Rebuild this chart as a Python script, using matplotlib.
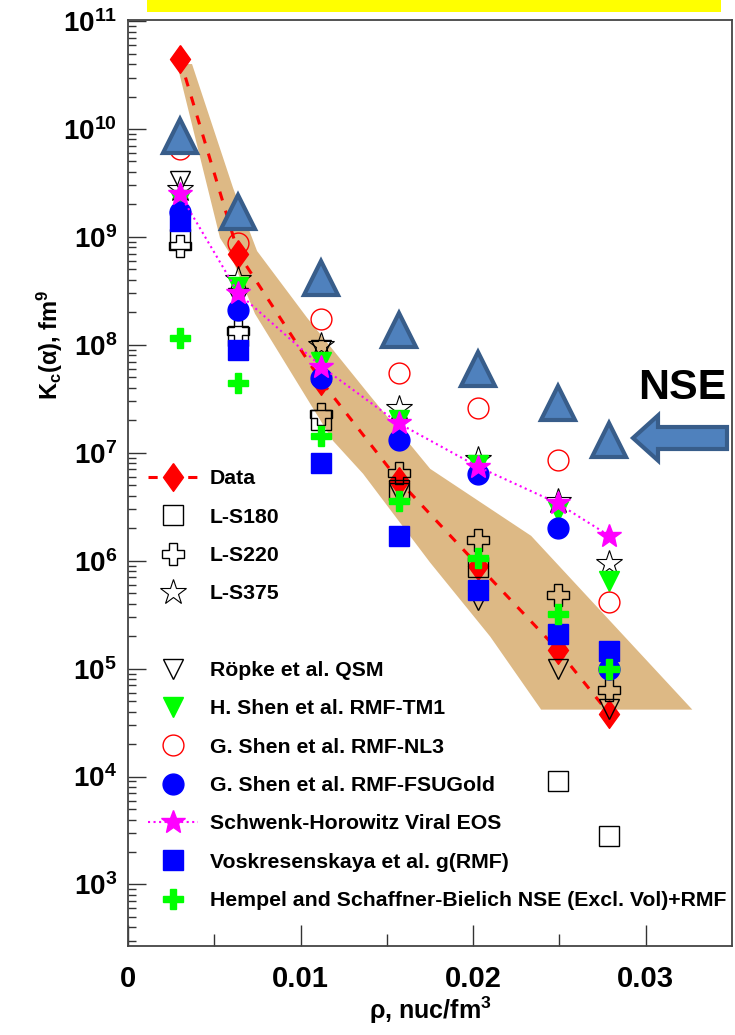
import math
import matplotlib
matplotlib.use("Agg")
import matplotlib.pyplot as plt
from matplotlib.lines import Line2D
from matplotlib.patches import Rectangle, Polygon, FancyArrow
from matplotlib.ticker import FixedLocator, MultipleLocator, NullFormatter, FuncFormatter

plt.rcParams['font.family'] = ['Liberation Sans', 'DejaVu Sans']
plt.rcParams['font.weight'] = 'bold'
plt.rcParams['mathtext.fontset'] = 'custom'
plt.rcParams['mathtext.rm'] = 'Liberation Sans:bold'
plt.rcParams['mathtext.it'] = 'Liberation Sans:bold'
plt.rcParams['mathtext.bf'] = 'Liberation Sans:bold'

# density points (nuc/fm^3)
rho = [0.0030, 0.0064, 0.0112, 0.0157, 0.0203, 0.0249, 0.0279]

# K_c(alpha) values, fm^9
k_data = [4.5e10, 7.0e8, 4.6e7, 5.5e6, 9.0e5, 1.5e5, 3.8e4]
k_ls180 = [9.5e8, 1.2e8, 2.0e7, 4.5e6, 8.7e5, 9.1e3, 2.8e3]
k_ls220 = [8.3e8, 1.35e8, 2.3e7, 6.5e6, 1.56e6, 4.8e5, 6.4e4]
k_ls375 = [2.8e9, 4.1e8, 1.0e8, 2.6e7, 8.8e6, 3.6e6, 9.6e5]
k_ropke = [3.3e9, 2.7e8, 9.0e7, 4.2e6, 4.3e5, 1.0e5, 4.2e4]
k_hshen = [2.2e9, 3.4e8, 7.0e7, 2.0e7, 7.7e6, 2.9e6, 6.5e5]
k_nl3 = [6.5e9, 8.8e8, 1.74e8, 5.5e7, 2.6e7, 8.5e6, 4.1e5]
k_fsu = [1.7e9, 2.1e8, 4.9e7, 1.3e7, 6.3e6, 2.0e6, 1.0e5]
k_viral = [2.5e9, 3.0e8, 6.3e7, 1.87e7, 7.4e6, 3.4e6, 1.7e6]
k_vosk = [1.4e9, 9.0e7, 8.1e6, 1.7e6, 5.3e5, 2.1e5, 1.45e5]
k_hempel = [1.15e8, 4.4e7, 1.44e7, 3.6e6, 1.07e6, 3.2e5, 1.0e5]
k_nse = [8.6e9, 1.7e9, 4.2e8, 1.38e8, 6.0e7, 2.9e7, 1.3e7]

# uncertainty band outline (upper edge then lower edge)
band_rho = [0.00371, 0.00609, 0.00748, 0.01038, 0.01403, 0.01751, 0.02336, 0.03270,
            0.02394, 0.02099, 0.01751, 0.01362, 0.01188, 0.00736, 0.00591, 0.00533, 0.00284]
band_k = [4.0e10, 2.84e9, 7.4e8, 1.78e8, 3.37e7, 7.1e6, 1.70e6, 4.17e4,
          4.17e4, 1.98e5, 9.6e5, 6.4e6, 1.29e7, 1.94e8, 7.0e8, 9.8e8, 4.0e10]

y_major = [10.0**e for e in range(3, 12)]
y_minor = [m * 10.0**e for e in range(2, 11) for m in range(2, 10)]

fig = plt.figure(figsize=(7.35, 10.35), dpi=100)
ax = fig.add_axes([128/735, 1-946/1035, 604/735, 926/1035])
ax.set_yscale('log')
ax.set_xlim(0, 0.035)
ax.set_ylim(10**2.43, 10**11.01)

ax.add_patch(Polygon(list(zip(band_rho, band_k)), closed=True, facecolor='#DDB985',
                     edgecolor='none', zorder=1))

diamond = [(0, 1), (0.72, 0), (0, -1), (-0.72, 0), (0, 1)]
red, blue, green, mag = '#FF0000', '#0000FF', '#00FF00', '#FF00FF'

h_data, = ax.plot(rho, k_data, color=red, ls=(0, (3, 3.5)), lw=2.2, marker=diamond,
                  ms=20, mec=red, mfc=red, zorder=3)
h_ls180, = ax.plot(rho, k_ls180, ls='none', marker='s', ms=14, mfc='none', mec='black', mew=1, zorder=4)
h_ls220, = ax.plot(rho, k_ls220, ls='none', marker='P', ms=16, mfc='none', mec='black', mew=1, zorder=4)
h_ls375, = ax.plot(rho, k_ls375, ls='none', marker='*', ms=19, mfc='none', mec='black', mew=0.8, zorder=4)
h_ropke, = ax.plot(rho, k_ropke, ls='none', marker='v', ms=15, mfc='none', mec='black', mew=1, zorder=4)
h_hshen, = ax.plot(rho, k_hshen, ls='none', marker='v', ms=15, mfc=green, mec=green, zorder=4)
h_nl3, = ax.plot(rho, k_nl3, ls='none', marker='o', ms=15, mfc='none', mec=red, mew=1, zorder=4)
h_fsu, = ax.plot(rho, k_fsu, ls='none', marker='o', ms=15, mfc=blue, mec=blue, zorder=4)
h_viral, = ax.plot(rho, k_viral, color=mag, ls=':', lw=1.5, marker='*', ms=18, mfc=mag, mec=mag, zorder=4)
h_vosk, = ax.plot(rho, k_vosk, ls='none', marker='s', ms=14, mfc=blue, mec=blue, zorder=4)
h_hempel, = ax.plot(rho, k_hempel, ls='none', marker='P', ms=15, mfc=green, mec=green, zorder=5)
ax.plot(rho, k_nse, ls='none', marker='^', ms=24, mfc='#4F81BD', mec='#385D8A', mew=3, zorder=6)

blank = Line2D([], [], ls='none', marker='none')
handles = [h_data, h_ls180, h_ls220, h_ls375, blank, h_ropke, h_hshen, h_nl3, h_fsu,
           h_viral, h_vosk, h_hempel]
labels = ['Data', 'L-S180', 'L-S220', 'L-S375', ' ', 'Röpke et al. QSM',
          'H. Shen et al. RMF-TM1', 'G. Shen et al. RMF-NL3', 'G. Shen et al. RMF-FSUGold',
          'Schwenk-Horowitz Viral EOS', 'Voskresenskaya et al. g(RMF)',
          'Hempel and Schaffner-Bielich NSE (Excl. Vol)+RMF']
ax.legend(handles, labels, loc='upper left', bbox_to_anchor=(0.033, 0.5148), frameon=False,
          fontsize=15.3, handlelength=2.35, handletextpad=0.56, labelspacing=0.91,
          borderpad=0, borderaxespad=0)

ax.xaxis.set_major_locator(FixedLocator([0, 0.01, 0.02, 0.03]))
ax.xaxis.set_minor_locator(FixedLocator([0.005, 0.015, 0.025]))
ax.xaxis.set_major_formatter(FuncFormatter(lambda v, p: '0' if abs(v) < 1e-9 else '%g' % v))
ax.yaxis.set_major_locator(FixedLocator(y_major))
ax.yaxis.set_minor_locator(FixedLocator(y_minor))
ax.yaxis.set_minor_formatter(NullFormatter())
ax.yaxis.set_major_formatter(FuncFormatter(lambda v, p: r'$\mathbf{10^{%d}}$' % round(math.log10(v))))
ax.tick_params(axis='both', which='both', direction='in', top=False, right=False, colors='#333333')
ax.tick_params(axis='x', which='major', length=15, width=1, labelsize=21, pad=14, labelcolor='black')
ax.tick_params(axis='x', which='minor', length=9, width=1)
ax.tick_params(axis='y', which='major', length=13, width=1, labelsize=20, pad=8, labelcolor='black')
ax.tick_params(axis='y', which='minor', length=6, width=1)
for s in ax.spines.values():
    s.set_color('#444444')
    s.set_linewidth(1.3)

fig.text(50/735, 1-345/1035, r'K$_{c}$(α), fm$^{9}$', rotation=90, ha='center', va='center', fontsize=17)
fig.text(430/735, 1-1010/1035, r'ρ, nuc/fm$^{3}$', ha='center', va='center', fontsize=18)

fig.patches.append(Rectangle((147/735, 1-12/1035), 574/735, 12/1035, transform=fig.transFigure,
                             facecolor='#FFFF00', edgecolor='none'))
fig.text(682/735, 1-388/1035, 'NSE', ha='center', va='center', fontsize=31, color='black')
fig.add_artist(FancyArrow(7.27, 5.97, -0.94, 0, width=0.22, head_width=0.45, head_length=0.25,
                          length_includes_head=True, facecolor='#4F81BD', edgecolor='#385D8A',
                          lw=3, transform=fig.dpi_scale_trans, zorder=7))

fig.savefig('out.png', dpi=100)
